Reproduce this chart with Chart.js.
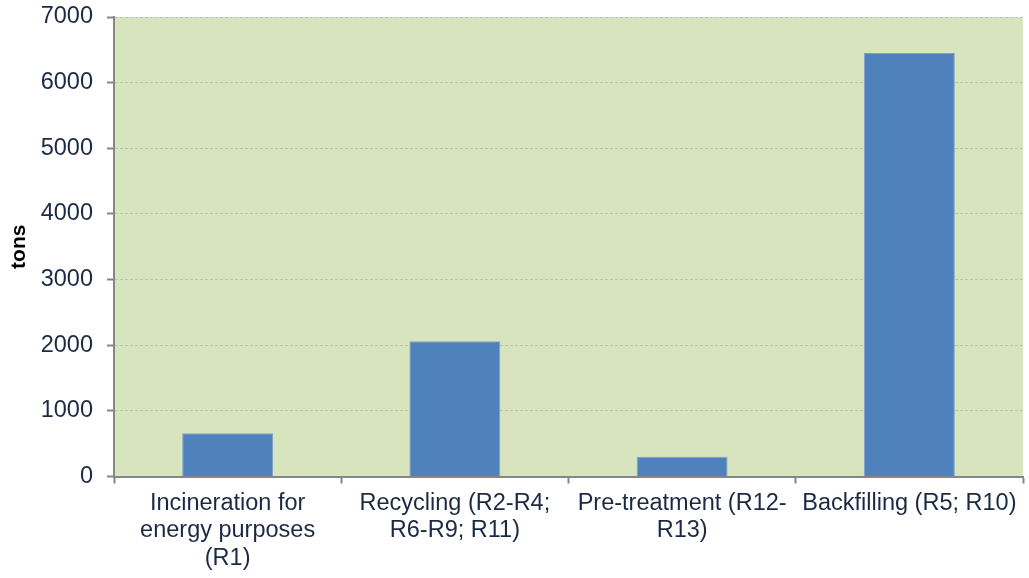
<!DOCTYPE html>
<html>
<head>
<meta charset="utf-8">
<script src="https://cdn.jsdelivr.net/npm/chart.js@4/dist/chart.umd.min.js"></script>
<style>
  body { margin: 0; background: #fff; }
  #wrap { width: 1029px; height: 578px; }
</style>
</head>
<body>
<div id="wrap"><canvas id="myChart" width="1029" height="578"></canvas></div>
<script>
// categories (multi-line as in the original)
var categories = [
	['Incineration for', 'energy purposes', '(R1)'],
	['Recycling (R2-R4;', 'R6-R9; R11)'],
	['Pre-treatment (R12-', 'R13)'],
	['Backfilling (R5; R10)']
];
var tons = [660, 2060, 300, 6450];
var yTicks = [0, 1000, 2000, 3000, 4000, 5000, 6000, 7000];

var textColor = '#1b2a44';

// green plot background
var plotBg = {
	id: 'plotBg',
	beforeDraw: function(chart) {
		var a = chart.chartArea, ctx = chart.ctx;
		ctx.save();
		ctx.fillStyle = '#d7e4bd';
		ctx.fillRect(a.left, a.top, a.right - a.left, a.bottom - a.top);
		ctx.restore();
	}
};

var ctx = document.getElementById('myChart').getContext('2d');
var chart = new Chart(ctx, {
	type: 'bar',
	data: {
		labels: categories,
		datasets: [{
			label: 'tons',
			data: tons,
			backgroundColor: '#4f81bd',
			borderColor: '#7ea3c9',
			borderWidth: 1,
			barPercentage: 0.4,
			categoryPercentage: 1.0
		}]
	},
	options: {
		responsive: false,
		animation: false,
		layout: { padding: { top: 17, right: 6, left: 7, bottom: 0 } },
		plugins: {
			legend: { display: false },
			tooltip: { enabled: false }
		},
		scales: {
			x: {
				afterFit: function(s) { s.paddingLeft = 0; s.paddingRight = 0; },
				grid: {
					offset: true,
					drawOnChartArea: false,
					tickLength: 7,
					tickColor: '#868686',
					tickWidth: 2
				},
				border: { color: '#868686', width: 2 },
				ticks: {
					color: textColor,
					font: { family: 'Liberation Sans, Arial', size: 23.5, lineHeight: 1.17 },
					maxRotation: 0,
					autoSkip: false,
					padding: 6
				}
			},
			y: {
				min: 0,
				max: 7000,
				afterBuildTicks: function(scale) {
					scale.ticks = yTicks.map(function(v) { return { value: v }; });
				},
				afterFit: function(s) { s.paddingTop = 0; s.paddingBottom = 0; s.width = 107; },
				grid: {
					color: '#bcc2b2',
					tickColor: '#868686',
					tickLength: 7,
					tickWidth: 2,
					tickBorderDash: []
				},
				border: { color: '#868686', width: 2, dash: [3, 2] },
				ticks: {
					color: textColor,
					font: { family: 'Liberation Sans, Arial', size: 23.5 },
					padding: 14,
					callback: function(v) { return String(v); }
				},
				title: {
					display: true,
					text: 'tons',
					color: '#000',
					font: { family: 'Liberation Sans, Arial', size: 21, weight: 'bold' },
					padding: { top: 0, bottom: 8 }
				}
			}
		}
	},
	plugins: [plotBg]
});
</script>
</body>
</html>
